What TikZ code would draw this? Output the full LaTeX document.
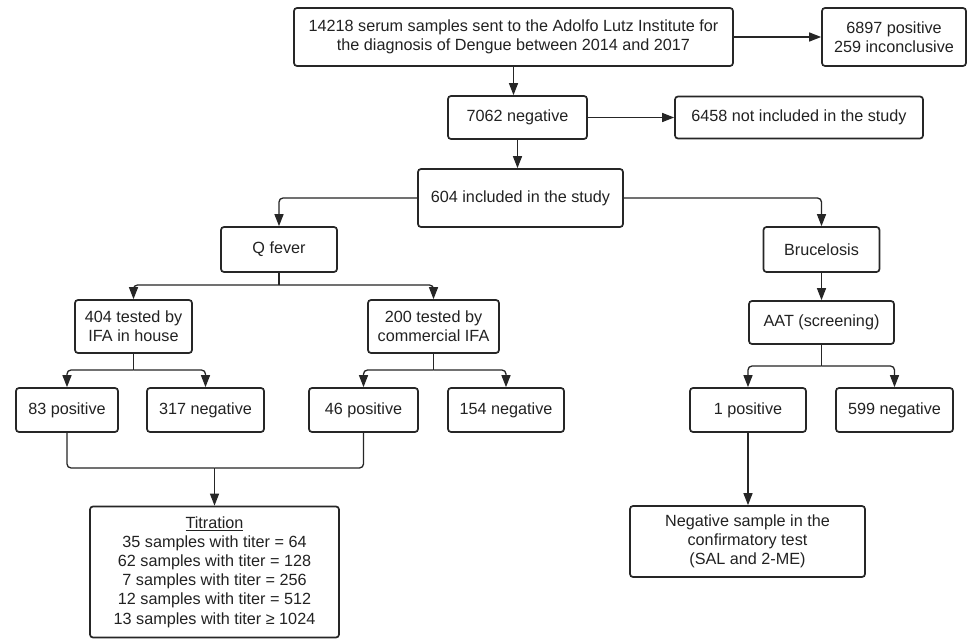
\documentclass[tikz,border=0pt]{standalone}
\usepackage{fontspec}
\setmainfont{Liberation Sans}
\usetikzlibrary{arrows.meta}
\definecolor{ink}{HTML}{222222}
\definecolor{edge}{HTML}{262626}
\tikzset{
  box/.style={draw=edge, line width=1.7pt, rounded corners=3pt, align=center,
    text=ink, inner sep=0pt, font=\fontsize{16.2}{19.2}\selectfont},
  conn/.style={draw=edge, line width=1.3pt, rounded corners=4pt},
  arr/.style={conn, -{Triangle[length=12pt,width=9pt]}},
}
\begin{document}
\begin{tikzpicture}[x=1pt,y=-1pt]
\useasboundingbox[fill=white] (0,0) rectangle (969,639);
% top
\node[box, minimum width=439pt, minimum height=58pt] (top) at (513.5,37)
  {14218 serum samples sent to the Adolfo Lutz Institute for\\the diagnosis of Dengue between 2014 and 2017};
\node[box, minimum width=144pt, minimum height=58pt] (pos) at (894,37)
  {6897 positive\\259 inconclusive};
\node[box, minimum width=139pt, minimum height=43pt] (neg) at (517.5,117.5) {7062 negative};
\node[box, minimum width=248pt, minimum height=42pt] (excl) at (799,117.5) {6458 not included in the study};
\node[box, minimum width=205pt, minimum height=58pt] (incl) at (520.5,198) {604 included in the study};
\node[box, minimum width=116pt, minimum height=45pt] (qf) at (279,249.5) {Q fever};
\node[box, minimum width=116pt, minimum height=45pt] (bru) at (821.5,249.5) {Brucelosis};
\node[box, minimum width=117pt, minimum height=53pt] (ifa1) at (133.5,326.5) {404 tested by\\IFA in house};
\node[box, minimum width=131pt, minimum height=53pt] (ifa2) at (433.5,326.5) {200 tested by\\commercial IFA};
\node[box, minimum width=145pt, minimum height=43pt] (aat) at (821.5,322.5) {AAT (screening)};
\node[box, minimum width=102pt, minimum height=44pt] (p83) at (67,410) {83 positive};
\node[box, minimum width=117pt, minimum height=44pt] (n317) at (205.5,410) {317 negative};
\node[box, minimum width=109pt, minimum height=44pt] (p46) at (363.5,410) {46 positive};
\node[box, minimum width=116pt, minimum height=44pt] (n154) at (506,410) {154 negative};
\node[box, minimum width=116pt, minimum height=44pt] (p1) at (748,410) {1 positive};
\node[box, minimum width=117pt, minimum height=44pt] (n599) at (894.5,410) {599 negative};
\node[box, minimum width=249pt, minimum height=131pt] (tit) at (214.5,572)
  {\underline{Titration}\\35 samples with titer = 64\\62 samples with titer = 128\\7 samples with titer = 256\\12 samples with titer = 512\\13 samples with titer ≥ 1024};
\node[box, minimum width=235pt, minimum height=71pt] (negs) at (747.5,541.5)
  {Negative sample in the\\confirmatory test\\(SAL and 2-ME)};
% connectors
\draw[arr] (top.east) -- (pos.west);
\draw[arr] (top.south) -- (top.south |- neg.north);
\draw[arr] (neg.east) -- (excl.west);
\draw[arr] (neg.south) -- (neg.south |- incl.north);
\draw[arr] (incl.west) -| (qf.north);
\draw[arr] (incl.east) -| (bru.north);
\draw[arr] (bru.south) -- (aat.north);
% Q fever split
\coordinate (jq) at (279,285);
\draw[conn] (qf.south) -- (jq);
\draw[arr] (jq) -| (ifa1.north);
\draw[arr] (jq) -| (ifa2.north);
% IFA splits
\coordinate (j1) at (133.5,370);
\draw[conn] (ifa1.south) -- (j1);
\draw[arr] (j1) -| (p83.north);
\draw[arr] (j1) -| (n317.north);
\coordinate (j2) at (433.5,370);
\draw[conn] (ifa2.south) -- (j2);
\draw[arr] (j2) -| (p46.north);
\draw[arr] (j2) -| (n154.north);
\coordinate (j3) at (821.5,366);
\draw[conn] (aat.south) -- (j3);
\draw[arr] (j3) -| (p1.north);
\draw[arr] (j3) -| (n599.north);
% merge to titration
\coordinate (jt) at (214.5,468);
\draw[conn] (p83.south) |- (jt);
\draw[conn] (p46.south) |- (jt);
\draw[arr] (jt) -- (tit.north);
\draw[arr] (p1.south) -- (negs.north -| p1.south);
\end{tikzpicture}
\end{document}
